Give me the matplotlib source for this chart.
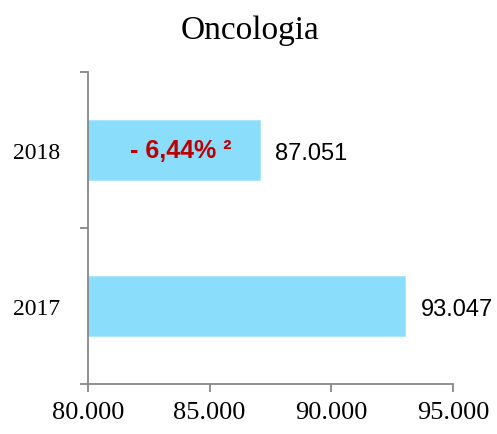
import matplotlib
matplotlib.use("Agg")
import matplotlib.pyplot as plt
from matplotlib.ticker import FuncFormatter, FixedLocator

# Data
years = ['2017', '2018']
values = [93047, 87051]
change_label = '- 6,44% ²'
xticks = [80000, 85000, 90000, 95000]

bar_color = '#8ADEFC'
spine_color = '#878787'

fig = plt.figure(figsize=(4.97, 4.35), dpi=100)
ax = fig.add_axes([0.177, 0.115, 0.7345, 0.717])

y = range(len(years))
bars = ax.barh(y, values, height=0.39, left=0, color=bar_color, edgecolor='#A5E6FC', linewidth=0.6)

ax.set_xlim(80000, 95000)
ax.set_ylim(-0.5, 1.5)

def thousands(v, pos):
    return f"{v:,.0f}".replace(",", ".")

ax.xaxis.set_major_locator(FixedLocator(xticks))
ax.xaxis.set_major_formatter(FuncFormatter(thousands))
ax.set_yticks(list(y))
ax.set_yticklabels(years)
ax.yaxis.set_minor_locator(FixedLocator([-0.5, 0.5, 1.5]))

serif = ['Liberation Serif', 'DejaVu Serif']
for lab in ax.get_xticklabels():
    lab.set_family(serif)
    lab.set_fontsize(19)
for lab in ax.get_yticklabels():
    lab.set_family(serif)
    lab.set_fontsize(17)

ax.tick_params(axis='x', length=6, width=1.3, color=spine_color, pad=6)
ax.tick_params(axis='y', which='major', length=0, pad=20)
ax.tick_params(axis='y', which='minor', length=6, width=1.3, color=spine_color)

for s in ['top', 'right']:
    ax.spines[s].set_visible(False)
for s in ['left', 'bottom']:
    ax.spines[s].set_color(spine_color)
    ax.spines[s].set_linewidth(1.3)

sans = ['Liberation Sans', 'DejaVu Sans']

# value labels
for bar, v in zip(bars, values):
    ax.annotate(thousands(v, None), (bar.get_width(), bar.get_y() + bar.get_height() / 2),
                xytext=(11, -2), textcoords='offset points', ha='left', va='center',
                fontsize=17, family=sans)

# change annotation inside 2018 bar
ax.text(83800, 1.0, change_label, ha='center', va='center', fontsize=18,
        fontweight='bold', color='#C00000', family=sans)

fig.text(0.503, 0.93, 'Oncologia', ha='center', va='center', fontsize=24,
         family=serif)

fig.savefig('out.png', dpi=100, facecolor='white')
